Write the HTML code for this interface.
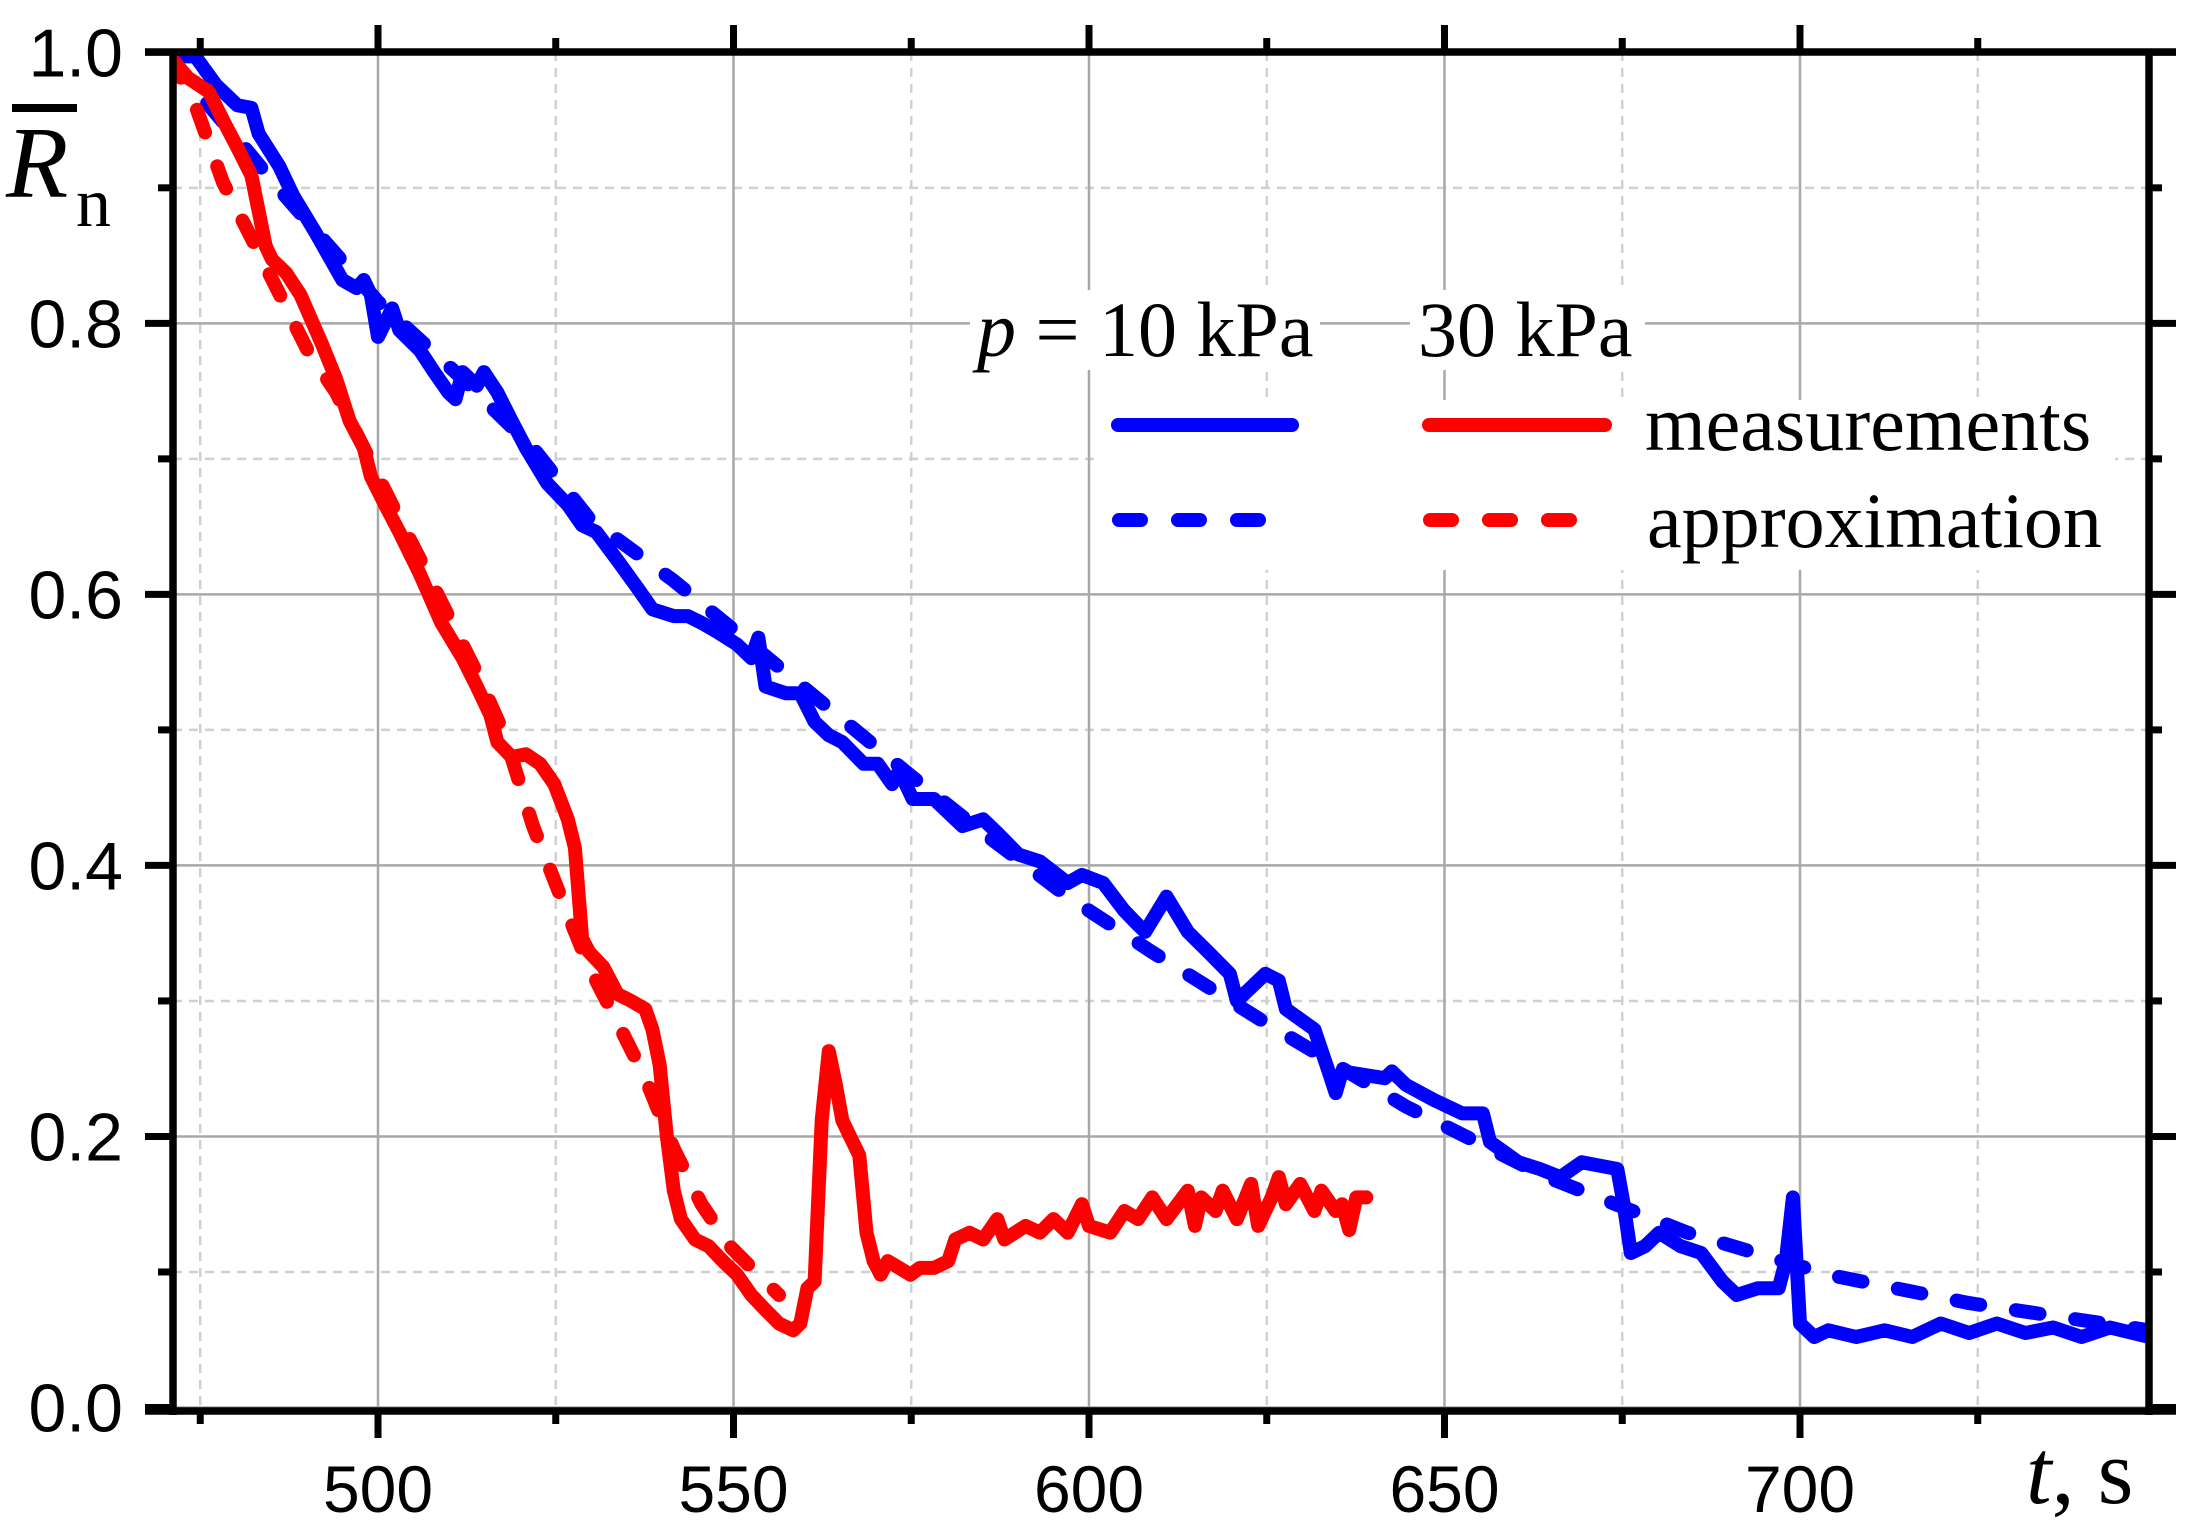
<!DOCTYPE html>
<html><head><meta charset="utf-8"><style>
html,body{margin:0;padding:0;background:#fff;}
svg{display:block;}
</style></head><body>
<svg id="chart" width="2201" height="1531" viewBox="0 0 2201 1531" xmlns="http://www.w3.org/2000/svg">
<defs><clipPath id="plotclip"><rect x="173" y="52" width="1976" height="1359"/></clipPath></defs>
<g id="grid"></g>
<g id="series" clip-path="url(#plotclip)"></g>
<g id="axes"></g>
<g id="legend">
  <rect x="970" y="290" width="350" height="80" fill="#fff"/>
  <rect x="1410" y="290" width="235" height="80" fill="#fff"/>
  <rect x="1095" y="400" width="1020" height="170" fill="#fff"/>
  <text x="977" y="356" font-family="Liberation Serif, serif" font-size="78"><tspan font-style="italic">p</tspan> = 10 kPa</text>
  <text x="1418" y="356" font-family="Liberation Serif, serif" font-size="78">30 kPa</text>
  <line x1="1118" y1="425" x2="1292" y2="425" stroke="#0000ff" stroke-width="14" stroke-linecap="round"/>
  <line x1="1429" y1="425" x2="1605" y2="425" stroke="#ff0000" stroke-width="14" stroke-linecap="round"/>
  <text x="1645" y="450" font-family="Liberation Serif, serif" font-size="78">measurements</text>
  <line x1="1119" y1="520" x2="1262" y2="520" stroke="#0000ff" stroke-width="14" stroke-linecap="round" stroke-dasharray="22 37"/>
  <line x1="1430" y1="520" x2="1573" y2="520" stroke="#ff0000" stroke-width="14" stroke-linecap="round" stroke-dasharray="22 37"/>
  <text x="1647" y="547" font-family="Liberation Serif, serif" font-size="78">approximation</text>
</g>
<g id="titles">
  <line x1="12" y1="108" x2="77" y2="108" stroke="#000" stroke-width="8"/>
  <text x="6" y="197" font-family="Liberation Serif, serif" font-size="102" font-style="italic">R</text>
  <text x="76" y="226" font-family="Liberation Serif, serif" font-size="70">n</text>
  <text x="2026" y="1503" font-family="Liberation Serif, serif" font-size="92"><tspan font-style="italic">t</tspan>, s</text>
</g>
</svg>
<script>
const xTicks = [500, 550, 600, 650, 700];
const xMinor = [475, 525, 575, 625, 675, 725];
const yTicks = [0.0, 0.2, 0.4, 0.6, 0.8, 1.0];
const yMinor = [0.1, 0.3, 0.5, 0.7, 0.9];
const yLabels = ["0.0", "0.2", "0.4", "0.6", "0.8", "1.0"];

const blueMeasT = [471.3,474.3,477.2,480.2,482.2,483.2,486.1,488.1,491.1,495.0,497.0,498.0,499.0,500.0,502.0,503.0,505.9,507.9,509.9,510.9,511.9,513.9,514.9,516.8,518.8,520.8,523.8,526.7,528.7,530.7,533.7,536.6,538.6,541.6,543.6,545.5,547.5,550.5,552.5,553.5,554.5,557.4,559.4,561.4,563.4,565.3,568.3,570.3,572.3,573.3,575.2,578.2,582.2,585.1,587.1,590.1,593.1,597.0,599.0,602.0,604.9,606.9,607.9,610.9,613.9,616.8,619.8,620.8,622.8,624.8,626.7,627.7,631.7,633.7,634.7,635.6,641.6,642.6,644.6,648.5,652.5,655.4,656.4,660.4,663.4,666.3,669.3,674.3,675.2,676.2,678.2,680.2,683.2,686.1,689.1,691.1,694.1,697.0,698.0,699.0,700.0,702.0,704.0,707.9,711.9,715.8,719.8,723.8,727.7,731.7,735.6,739.6,743.6,749.1];
const blueMeasV = [0.997,0.997,0.976,0.961,0.959,0.940,0.916,0.894,0.868,0.832,0.826,0.832,0.821,0.790,0.811,0.795,0.780,0.764,0.749,0.744,0.764,0.754,0.764,0.749,0.728,0.708,0.682,0.666,0.651,0.646,0.625,0.604,0.589,0.584,0.584,0.579,0.573,0.563,0.553,0.568,0.532,0.527,0.527,0.506,0.496,0.491,0.475,0.475,0.460,0.470,0.449,0.449,0.429,0.434,0.424,0.408,0.403,0.387,0.393,0.387,0.367,0.356,0.351,0.377,0.351,0.336,0.320,0.300,0.310,0.320,0.315,0.294,0.279,0.248,0.232,0.248,0.243,0.248,0.238,0.227,0.217,0.217,0.196,0.181,0.176,0.170,0.181,0.176,0.150,0.114,0.119,0.129,0.119,0.114,0.093,0.083,0.088,0.088,0.108,0.155,0.062,0.052,0.057,0.052,0.057,0.052,0.062,0.055,0.062,0.055,0.059,0.052,0.059,0.052];

const blueApproxT = [470.7,476.2,481.2,486.1,492.1,500.0,511.9,521.8,529.7,541.6,557.4,575.2,585.1,597.0,608.9,624.8,644.6,664.4,684.2,704.0,723.8,749.1];
const blueApproxV = [0.997,0.961,0.930,0.899,0.863,0.816,0.759,0.708,0.656,0.610,0.542,0.465,0.424,0.377,0.336,0.284,0.222,0.170,0.129,0.098,0.077,0.057];

const redMeasT = [470.7,473.3,476.2,478.2,480.2,482.2,483.2,484.2,485.1,487.1,489.1,492.1,494.1,496.0,498.0,499.0,501.0,503.0,505.9,508.9,511.9,513.9,515.8,516.8,518.8,520.8,522.8,524.8,526.7,527.7,528.7,529.7,531.7,533.7,535.6,537.6,538.6,539.6,540.6,541.6,542.6,544.6,546.5,548.5,550.5,552.5,554.5,556.4,558.4,559.4,560.4,561.4,562.4,563.4,564.4,565.3,566.3,567.7,568.7,569.7,570.7,571.7,573.3,574.9,576.2,578.2,580.2,581.2,583.2,585.1,587.1,588.1,591.1,593.1,595.0,597.0,599.0,600.0,603.0,605.0,606.9,608.9,610.9,613.9,614.9,615.8,617.8,618.8,620.8,622.8,623.8,625.7,626.7,627.7,629.7,631.7,632.7,634.7,635.6,636.6,637.6,639.0];
const redMeasV = [0.997,0.981,0.971,0.950,0.930,0.909,0.883,0.857,0.847,0.837,0.821,0.785,0.759,0.728,0.708,0.687,0.666,0.646,0.615,0.579,0.553,0.532,0.511,0.491,0.480,0.482,0.475,0.460,0.434,0.413,0.346,0.336,0.325,0.305,0.300,0.294,0.279,0.253,0.201,0.160,0.139,0.124,0.119,0.108,0.098,0.083,0.072,0.062,0.057,0.062,0.088,0.093,0.212,0.263,0.238,0.212,0.201,0.186,0.129,0.108,0.098,0.108,0.103,0.098,0.103,0.103,0.108,0.124,0.129,0.124,0.139,0.124,0.134,0.129,0.139,0.129,0.150,0.134,0.129,0.145,0.139,0.155,0.139,0.160,0.134,0.155,0.145,0.160,0.139,0.165,0.134,0.155,0.170,0.150,0.165,0.145,0.160,0.145,0.150,0.131,0.155,0.155];

const redApproxT = [470.7,474.3,478.2,482.2,486.1,490.1,494.1,498.0,502.0,506.0,509.9,513.9,517.8,521.8,525.7,529.7,533.7,537.6,541.6,545.5,549.5,553.5,556.4];
const redApproxV = [0.997,0.961,0.904,0.863,0.822,0.780,0.749,0.708,0.666,0.625,0.584,0.542,0.496,0.429,0.377,0.325,0.284,0.243,0.191,0.150,0.119,0.098,0.083];

const NS = "http://www.w3.org/2000/svg";
const X0 = 173, X1 = 2149, Y0 = 1411, Y1 = 52;
function xs(t){ return 1089 + (t - 600) * 7.11; }
function ys(v){ return 1407.5 - v * 1355.2; }
function mk(tag, attrs, parent){
  const e = document.createElementNS(NS, tag);
  for (const k in attrs) e.setAttribute(k, attrs[k]);
  parent.appendChild(e);
  return e;
}
const grid = document.getElementById('grid');
const axes = document.getElementById('axes');
const series = document.getElementById('series');

xMinor.forEach(t => {
  const l = mk('line', {x1: xs(t), x2: xs(t), y1: Y1, y2: Y0, stroke: '#d0d0d0', 'stroke-width': 2.5, 'stroke-dasharray': '9 7'}, grid);
  
  
});
yMinor.forEach(v => {
  const l = mk('line', {x1: X0, x2: X1, y1: ys(v), y2: ys(v), stroke: '#d0d0d0', 'stroke-width': 2.5, 'stroke-dasharray': '9 7'}, grid);
  
  
});
xTicks.forEach(t => {
  const l = mk('line', {x1: xs(t), x2: xs(t), y1: Y1, y2: Y0, stroke: '#a8a8a8', 'stroke-width': 2.5}, grid);
  
  
});
yTicks.forEach(v => {
  const l = mk('line', {x1: X0, x2: X1, y1: ys(v), y2: ys(v), stroke: '#a8a8a8', 'stroke-width': 2.5}, grid);
  
  
});

function path(T, V){ return T.map((t,i)=>(i?'L':'M')+xs(t).toFixed(1)+' '+ys(V[i]).toFixed(1)).join(' '); }
function addSeries(T, V, color, dashed, name){
  const p = mk('path', {d: path(T, V), fill: 'none', stroke: color, 'stroke-width': 14, 'stroke-linejoin': 'round', 'stroke-linecap': 'round'}, series);
  if (dashed) p.setAttribute('stroke-dasharray', '24 36');
  
  
}
addSeries(blueApproxT, blueApproxV, '#0000ff', true, 'approximation-10kpa');
addSeries(redApproxT, redApproxV, '#ff0000', true, 'approximation-30kpa');
addSeries(blueMeasT, blueMeasV, '#0000ff', false, 'measurements-10kpa');
addSeries(redMeasT, redMeasV, '#ff0000', false, 'measurements-30kpa');

const frame = [[145, Y1, 2176, Y1],[145, Y0, 2176, Y0],[X0, Y1, X0, Y0+4],[X1, Y1, X1, Y0+4]];
frame.forEach(f => {
  const l = mk('line', {x1: f[0], y1: f[1], x2: f[2], y2: f[3], stroke: '#000', 'stroke-width': 7.5}, axes);
  
  
});
xTicks.forEach((t, i) => {
  const b = mk('line', {x1: xs(t), x2: xs(t), y1: Y0, y2: 1438, stroke: '#000', 'stroke-width': 7}, axes);
  
  
  const tp = mk('line', {x1: xs(t), x2: xs(t), y1: 25, y2: Y1, stroke: '#000', 'stroke-width': 7}, axes);
  
  
  const lb = mk('text', {x: xs(t), y: 1512, 'text-anchor': 'middle', 'font-family': 'Liberation Sans, sans-serif', 'font-size': 66}, axes);
  lb.textContent = String(t);
  
  
});
xMinor.forEach(t => {
  const b = mk('line', {x1: xs(t), x2: xs(t), y1: Y0, y2: 1424, stroke: '#000', 'stroke-width': 7}, axes);
  
  
  const tp = mk('line', {x1: xs(t), x2: xs(t), y1: 38, y2: Y1, stroke: '#000', 'stroke-width': 7}, axes);
  
  
});
yTicks.forEach((v, i) => {
  const l = mk('line', {x1: 145, x2: X0, y1: ys(v), y2: ys(v), stroke: '#000', 'stroke-width': 7}, axes);
  
  
  const r = mk('line', {x1: X1, x2: 2176, y1: ys(v), y2: ys(v), stroke: '#000', 'stroke-width': 7}, axes);
  
  
  const lb = mk('text', {x: 123, y: ys(v) + 24, 'text-anchor': 'end', 'font-family': 'Liberation Sans, sans-serif', 'font-size': 68}, axes);
  lb.textContent = yLabels[i];
  
  
});
yMinor.forEach(v => {
  const l = mk('line', {x1: 158, x2: X0, y1: ys(v), y2: ys(v), stroke: '#000', 'stroke-width': 7}, axes);
  
  
  const r = mk('line', {x1: X1, x2: 2162, y1: ys(v), y2: ys(v), stroke: '#000', 'stroke-width': 7}, axes);
  
  
});
</script>
</body></html>
